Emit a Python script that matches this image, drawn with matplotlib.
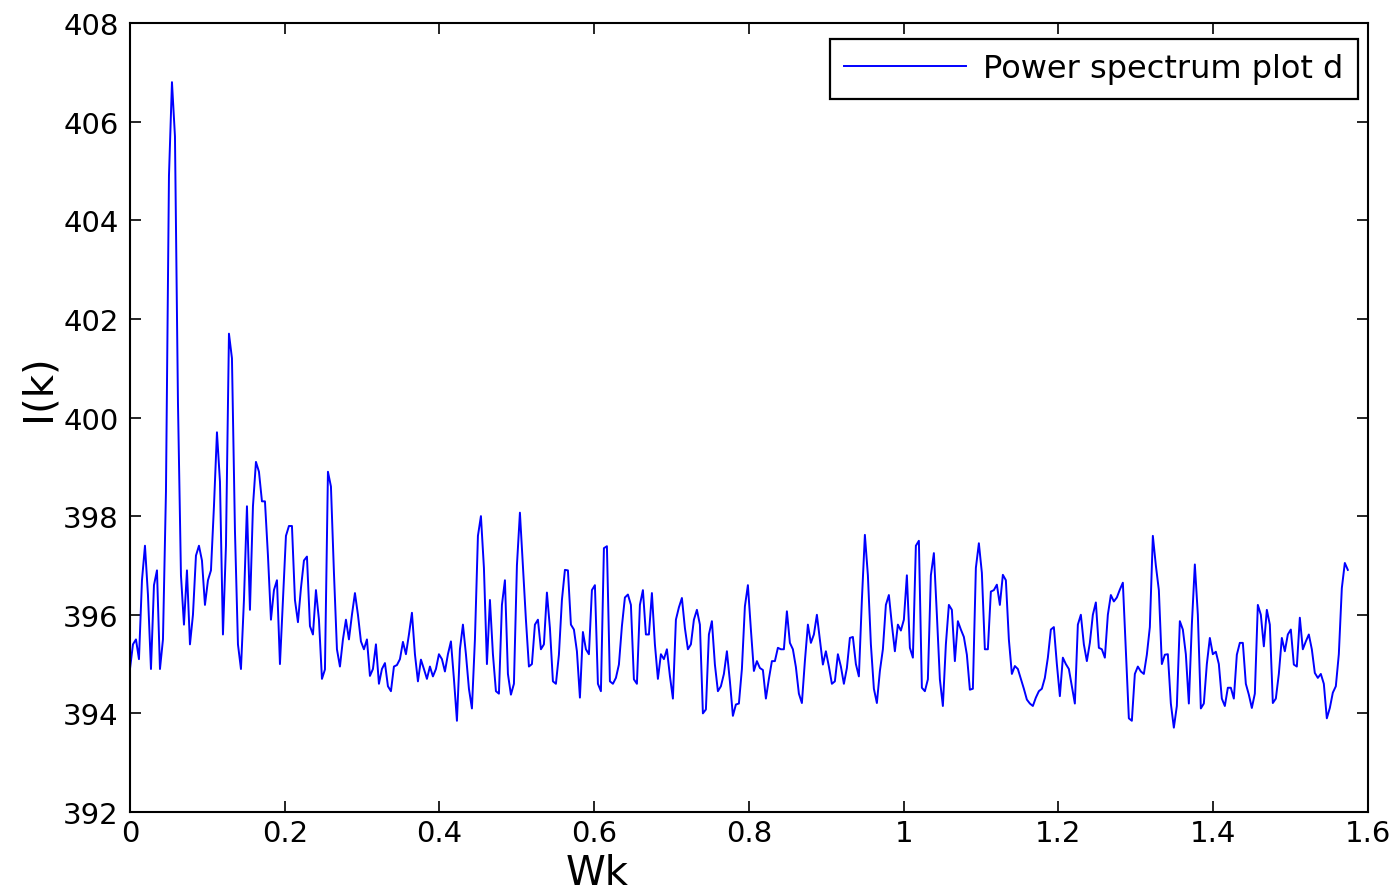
import numpy as np
import matplotlib
matplotlib.use('Agg')
import matplotlib.pyplot as plt

# I(k) values, every ~3 px along Wk, split by region
ik_a = [394.9, 395.4, 395.5, 395.1, 396.7, 397.4, 396.4, 394.9, 396.6, 396.9,
        394.9, 395.5, 398.5, 404.9, 406.8, 405.7, 400.3, 396.8, 395.8, 396.9,
        395.4, 396.0, 397.2, 397.4, 397.1, 396.2, 396.7, 396.9, 398.2, 399.7,
        398.7, 395.6, 397.4, 401.7, 401.2, 397.7, 395.4, 394.9, 396.3, 398.2,
        396.1, 398.2, 399.1, 398.9, 398.3, 398.3, 397.2, 395.9, 396.5, 396.7,
        395.0, 396.3, 397.6, 397.8, 397.8]
ik_b = [396.3, 395.85, 396.54, 397.1, 397.18, 395.77, 395.6, 396.5, 395.9, 394.7,
        394.89, 398.9, 398.6, 396.85, 395.3, 394.95, 395.5, 395.9, 395.5, 396.0,
        396.44, 396.0, 395.46, 395.3, 395.5, 394.76, 394.9, 395.4, 394.6, 394.9,
        395.02, 394.55, 394.45, 394.95, 394.98, 395.1, 395.45, 395.2, 395.6, 396.04,
        395.2, 394.65, 395.09, 394.9, 394.7, 394.95, 394.75, 394.9, 395.2, 395.1,
        394.85]
ik_c = [395.2, 395.46, 394.7, 393.85, 395.3, 395.8, 395.2, 394.5, 394.1, 395.5,
        397.6, 398.0, 396.95, 395.0, 396.3, 395.2, 394.45, 394.4, 396.2, 396.7,
        394.8, 394.38, 394.6, 397.0, 398.07, 397.0, 395.9, 394.95, 395.0, 395.8,
        395.9, 395.3, 395.4, 396.45, 395.73, 394.65, 394.6, 395.19, 396.3, 396.91,
        396.9, 395.8, 395.7, 395.26, 394.32, 395.65, 395.3, 395.2, 396.5, 396.6]
ik_d = [394.6, 394.45, 397.35, 397.39, 394.65, 394.6, 394.72, 394.99, 395.77, 396.35,
        396.41, 396.2, 394.69, 394.6, 396.2, 396.5, 395.6, 395.6, 396.44, 395.4,
        394.7, 395.2, 395.1, 395.3, 394.76, 394.3, 395.9, 396.15, 396.34, 395.73,
        395.3, 395.4, 395.9, 396.1, 395.8, 394.0, 394.08, 395.6, 395.87, 394.99,
        394.45, 394.55, 394.8, 395.26, 394.65, 393.95, 394.18, 394.2, 394.9, 396.17]
ik_e = [396.6, 395.7, 394.86, 395.06, 394.92, 394.88, 394.3, 394.7, 395.06, 395.06,
        395.33, 395.3, 395.3, 396.07, 395.43, 395.3, 394.94, 394.4, 394.21, 395.06,
        395.8, 395.43, 395.6, 396.0, 395.5, 394.99, 395.26, 394.95, 394.6, 394.65,
        395.2, 394.95, 394.6, 394.92, 395.53, 395.55, 395.0, 394.75, 396.3, 397.62,
        396.8, 395.4, 394.5, 394.21, 394.86, 395.3, 396.2, 396.4, 395.8, 395.26]
ik_f = [395.8, 395.68, 395.9, 396.8, 395.33, 395.13, 397.4, 397.5, 394.52, 394.45,
        394.69, 396.8, 397.25, 396.0, 394.69, 394.15, 395.4, 396.2, 396.1, 395.06,
        395.87, 395.7, 395.55, 395.19, 394.48, 394.5, 396.95, 397.45, 396.85, 395.3,
        395.3, 396.47, 396.5, 396.61, 396.2, 396.81, 396.7, 395.5, 394.8, 394.96,
        394.9, 394.7, 394.5, 394.28, 394.2, 394.15, 394.32, 394.45, 394.5, 394.72]
ik_g = [395.13, 395.7, 395.75, 395.0, 394.35, 395.13, 395.0, 394.9, 394.55, 394.2,
        395.8, 396.0, 395.4, 395.06, 395.43, 396.0, 396.25, 395.33, 395.3, 395.13,
        396.0, 396.4, 396.27, 396.35, 396.51, 396.65, 395.3, 393.9, 393.85, 394.8,
        394.95, 394.85, 394.8, 395.19, 395.75, 397.6, 397.0, 396.5, 395.0, 395.19,
        395.2, 394.2, 393.71, 394.15, 395.87, 395.7, 395.2, 394.2, 395.8, 397.02]
ik_h = [396.0, 394.1, 394.2, 395.0, 395.53, 395.2, 395.25, 395.0, 394.3, 394.15,
        394.52, 394.52, 394.3, 395.19, 395.43, 395.43, 394.6, 394.38, 394.11, 394.4,
        396.2, 396.0, 395.36, 396.1, 395.8, 394.21, 394.3, 394.8, 395.53, 395.26,
        395.6, 395.7, 394.99, 394.95, 395.94, 395.3, 395.46, 395.6, 395.3, 394.82,
        394.72, 394.8, 394.6, 393.9, 394.11, 394.42, 394.55, 395.2, 396.54, 397.05,
        396.91]

wk_end = 1.574
xticks = [0, 0.2, 0.4, 0.6, 0.8, 1, 1.2, 1.4, 1.6]
xticklabels = ['0', '0.2', '0.4', '0.6', '0.8', '1', '1.2', '1.4', '1.6']
yticks = [392, 394, 396, 398, 400, 402, 404, 406, 408]

ik = np.concatenate([ik_a, ik_b, ik_c, ik_d, ik_e, ik_f, ik_g, ik_h])
wk = np.linspace(0, wk_end, len(ik))

plt.rcParams['font.family'] = ['DejaVu Sans']

fig = plt.figure(figsize=(13.99, 8.95), dpi=100)
ax = fig.add_axes([0.0929, 0.0916, 0.8849, 0.8816])

ax.plot(wk, ik, color='#0000ff', linewidth=1.4, label='Power spectrum plot d')

ax.set_xlim(0, 1.6)
ax.set_ylim(392, 408)
ax.set_xticks(xticks)
ax.set_xticklabels(xticklabels)
ax.set_yticks(yticks)
ax.tick_params(direction='in', length=8, width=1.2, top=True, right=True,
               labelsize=21, colors='black')
ax.tick_params(axis='y', pad=8)
ax.tick_params(axis='x', pad=5)
for s in ax.spines.values():
    s.set_linewidth(1.5)
    s.set_color('black')

ax.set_xlabel('Wk', fontsize=29)
ax.set_ylabel('I(k)', fontsize=29)
ax.xaxis.set_label_coords(0.377, -0.052)
ax.yaxis.set_label_coords(-0.058, 0.539)

leg = ax.legend(loc='upper right', bbox_to_anchor=(0.9919, 0.9797),
                borderaxespad=0, fontsize=23, handlelength=3.8,
                handletextpad=0.55, borderpad=0.45, fancybox=False,
                framealpha=1, edgecolor='black')
leg.get_frame().set_linewidth(1.6)

fig.savefig('out.png', dpi=100)
